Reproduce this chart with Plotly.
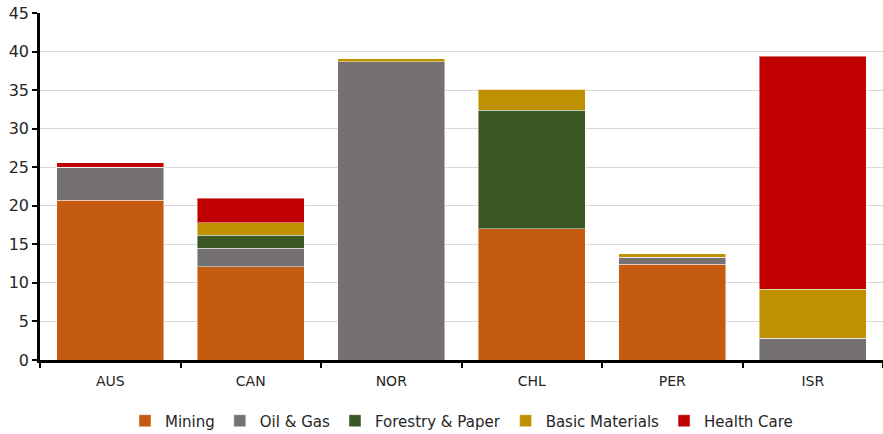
import plotly.graph_objects as go

countries = ["AUS", "CAN", "NOR", "CHL", "PER", "ISR"]

mining = [20.7, 12.1, 0.0, 17.0, 12.4, 0.0]
oil_gas = [4.3, 2.4, 38.7, 0.0, 0.9, 2.8]
forestry_paper = [0.0, 1.7, 0.0, 15.4, 0.0, 0.0]
basic_materials = [0.0, 1.6, 0.4, 2.7, 0.45, 6.4]
health_care = [0.6, 3.2, 0.0, 0.0, 0.0, 30.2]

series = [
    ("Mining", mining, "#C55A11"),
    ("Oil & Gas", oil_gas, "#767171"),
    ("Forestry & Paper", forestry_paper, "#3A5724"),
    ("Basic Materials", basic_materials, "#BF9000"),
    ("Health Care", health_care, "#C00000"),
]

font_family = "'DejaVu Sans', sans-serif"

fig = go.Figure()
for name, vals, color in series:
    fig.add_trace(go.Bar(
        x=countries, y=vals, name=name,
        marker=dict(color=color, line=dict(color="rgba(255,255,255,0.45)", width=1)),
    ))

fig.update_layout(
    barmode="stack",
    bargap=0.24,
    width=883, height=434,
    margin=dict(l=40, r=0, t=13, b=74, autoexpand=False),
    paper_bgcolor="white",
    plot_bgcolor="white",
    font=dict(family=font_family, size=15, color="#262626"),
    legend=dict(
        orientation="h", x=0.5, xanchor="center",
        yref="container", y=0.03, yanchor="middle",
        font=dict(size=15), itemwidth=30, traceorder="normal",
    ),
    xaxis=dict(
        showline=True, linecolor="black", linewidth=2.5,
        ticks="outside", ticklen=5, tickcolor="black", tickwidth=2,
        tickson="boundaries", showgrid=False,
        ticklabelstandoff=6,
        tickfont=dict(size=14),
    ),
    yaxis=dict(
        range=[0, 45], dtick=5,
        showline=True, linecolor="black", linewidth=2.5,
        ticks="outside", ticklen=5, tickcolor="black", tickwidth=2,
        showgrid=True, gridcolor="#D9D9D9", gridwidth=1,
        zeroline=False, tickfont=dict(size=16),
    ),
)

fig.write_html("out.html")
